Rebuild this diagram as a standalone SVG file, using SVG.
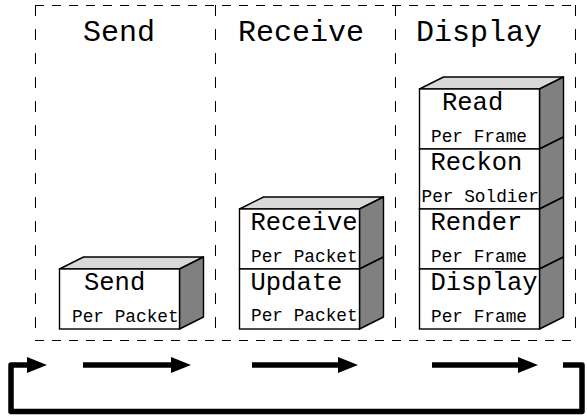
<svg xmlns="http://www.w3.org/2000/svg" width="587" height="417" viewBox="0 0 587 417">
<style>
.bg{fill:#ffffff}
.dash{stroke:#000;stroke-width:1;fill:none}
.dh{stroke-dasharray:9 8}
.dv{stroke-dasharray:11 13}
.front{fill:#ffffff;stroke:#000;stroke-width:1.4}
.top{fill:#d9d9d9;stroke:#000;stroke-width:1.4;stroke-linejoin:round}
.side{fill:#808080;stroke:#000;stroke-width:1.4;stroke-linejoin:round}
.col{font-family:"Liberation Mono","DejaVu Sans Mono",monospace;font-size:30px;fill:#000}
.big{font-family:"Liberation Mono","DejaVu Sans Mono",monospace;font-size:25.5px;fill:#000}
.small{font-family:"Liberation Mono","DejaVu Sans Mono",monospace;font-size:17.8px;fill:#000}
.flow{stroke:#000;stroke-width:5.5;fill:none;stroke-linejoin:round}
</style>
<defs>
<marker id="head" markerUnits="userSpaceOnUse" markerWidth="20" markerHeight="16" refX="0" refY="8" orient="auto">
<path d="M0,0 L20,8 L0,16 Z" fill="#000"/>
</marker>
</defs>
<rect class="bg" x="0" y="0" width="587" height="417"/>
<g id="frame">
<line class="dash dh" x1="35" y1="5.5" x2="576" y2="5.5"/>
<line class="dash dh" x1="35" y1="340.5" x2="576" y2="340.5"/>
<line class="dash dv" x1="35.5" y1="5" x2="35.5" y2="341"/>
<line class="dash dv" x1="215.5" y1="5" x2="215.5" y2="341"/>
<line class="dash dv" x1="395.5" y1="5" x2="395.5" y2="341"/>
<line class="dash dv" x1="575.5" y1="5" x2="575.5" y2="341"/>
</g>
<g id="column-titles">
<text class="col" x="83" y="41">Send</text>
<text class="col" x="238" y="41">Receive</text>
<text class="col" x="416" y="41">Display</text>
</g>
<g id="send">
<polygon class="top" points="59.5,269 83.5,257 203.5,257 179.5,269"/>
<polygon class="side" points="179.5,269 203.5,257 203.5,317 179.5,329"/>
<rect class="front" x="59.5" y="269" width="120" height="60"/>
<text class="big" x="84" y="290">Send</text>
<text class="small" x="72" y="321.5">Per Packet</text>
</g>
<g id="receive">
<polygon class="top" points="239.5,209 263.5,197 383.5,197 359.5,209"/>
<polygon class="side" points="359.5,209 383.5,197 383.5,257 359.5,269"/>
<rect class="front" x="239.5" y="209" width="120" height="60"/>
<text class="big" x="250.5" y="230">Receive</text>
<text class="small" x="251" y="261.5">Per Packet</text>
</g>
<g id="update">
<polygon class="side" points="359.5,269 383.5,257 383.5,317 359.5,329"/>
<rect class="front" x="239.5" y="269" width="120" height="60"/>
<text class="big" x="250.5" y="290">Update</text>
<text class="small" x="251" y="320.5">Per Packet</text>
</g>
<g id="read">
<polygon class="top" points="419.5,89 443.5,77 563.5,77 539.5,89"/>
<polygon class="side" points="539.5,89 563.5,77 563.5,137 539.5,149"/>
<rect class="front" x="419.5" y="89" width="120" height="60"/>
<text class="big" x="442" y="110">Read</text>
<text class="small" x="431" y="141.5">Per Frame</text>
</g>
<g id="reckon">
<polygon class="side" points="539.5,149 563.5,137 563.5,197 539.5,209"/>
<rect class="front" x="419.5" y="149" width="120" height="60"/>
<text class="big" x="430.5" y="170">Reckon</text>
<text class="small" x="421.5" y="201.5">Per Soldier</text>
</g>
<g id="render">
<polygon class="side" points="539.5,209 563.5,197 563.5,257 539.5,269"/>
<rect class="front" x="419.5" y="209" width="120" height="60"/>
<text class="big" x="430.5" y="230">Render</text>
<text class="small" x="431" y="261.5">Per Frame</text>
</g>
<g id="display">
<polygon class="side" points="539.5,269 563.5,257 563.5,317 539.5,329"/>
<rect class="front" x="419.5" y="269" width="120" height="60"/>
<text class="big" x="430.5" y="290">Display</text>
<text class="small" x="431" y="321.5">Per Frame</text>
</g>
<g id="connectors">
<line class="flow" x1="83" y1="365" x2="171" y2="365" marker-end="url(#head)"/>
<line class="flow" x1="252" y1="365" x2="338" y2="365" marker-end="url(#head)"/>
<line class="flow" x1="432" y1="365" x2="518" y2="365" marker-end="url(#head)"/>
<path class="flow" d="M563,365 H582 V411.5 H11 V365 H27" marker-end="url(#head)"/>
</g>
</svg>
